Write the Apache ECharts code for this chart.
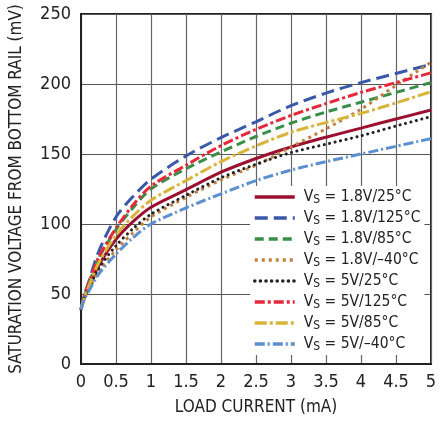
<!DOCTYPE html>
<html>
<head>
<meta charset="utf-8">
<script src="https://cdn.jsdelivr.net/npm/echarts@6/dist/echarts.min.js"></script>
<style>
html,body{margin:0;padding:0;background:#fff;}
#chart{width:443px;height:421px;}
</style>
</head>
<body>
<div id="chart"></div>
<script>
// Load current (mA)
const xs = [0, 0.05, 0.1, 0.25, 0.5, 0.75, 1, 1.5, 2, 2.5, 3, 3.5, 4, 4.5, 5];
// Saturation voltage (mV)
const vs18_25  = [39, 48, 53.5, 70, 89, 102, 112, 124.5, 137, 146.8, 155, 162, 168.5, 175, 181.4];
const vs18_125 = [39, 50, 57, 80, 105, 120, 132, 148.6, 161.7, 173, 184.5, 193.5, 201, 207.5, 214];
const vs18_85  = [39, 49, 55.5, 75, 96, 112, 125, 139.5, 151.5, 162.5, 172, 180, 187, 194, 201];
const vs18_m40 = [39, 47, 52, 66, 81.5, 94, 105, 119, 131.5, 142, 155, 168, 182, 199, 215.5];
const vs5_25   = [39, 47.5, 52.5, 68, 84.5, 97, 107, 120.5, 133, 142.7, 151, 157, 163, 170, 176.7];
const vs5_125  = [39, 49, 56, 76, 97, 114, 127, 142, 156, 167.6, 177.5, 186, 194, 201, 208];
const vs5_85   = [39, 48, 54, 72, 92, 106, 117, 131, 144.5, 155.8, 165.5, 172.5, 179, 186.5, 194.5];
const vs5_m40  = [39, 46.5, 51, 64, 78.5, 90.5, 100, 111.5, 121.5, 131, 138.5, 144.5, 150, 155.5, 161];

const names = ['1.8V/25°C','1.8V/125°C','1.8V/85°C','1.8V/–40°C','5V/25°C','5V/125°C','5V/85°C','5V/–40°C'];
const values = [vs18_25, vs18_125, vs18_85, vs18_m40, vs5_25, vs5_125, vs5_85, vs5_m40];
const xTicks = ['0','0.5','1','1.5','2','2.5','3','3.5','4','4.5','5'];
const yTicks = ['0','50','100','150','200','250'];

const styles = [
  {color:'#9b1030', type:'solid', width:3},
  {color:'#3a58a8', type:[13,6], width:3},
  {color:'#3a8f47', type:[9,5], width:3},
  {color:'#c37f3c', type:[3,4], width:3},
  {color:'#222222', type:[0.1,5.5], width:3, cap:'round'},
  {color:'#e5283a', type:[10,3,3,3], width:3},
  {color:'#d8b43a', type:[12,3,3,3], width:3},
  {color:'#5b8fd0', type:[10,3,2,3], width:3}
];

const FONT = '"Liberation Sans Narrow","DejaVu Sans Condensed","Roboto Condensed",sans-serif';

const series = names.map((n,i)=>({
  name:n,
  type:'line',
  smooth:0.3,
  showSymbol:false,
  symbol:'none',
  data: xs.map((x,j)=>[x, values[i][j]]),
  lineStyle:{color:styles[i].color, type:styles[i].type, width:styles[i].width, cap:styles[i].cap||'butt'},
  itemStyle:{color:styles[i].color},
  z: 3
}));

const chart = echarts.init(document.getElementById('chart'), null, {renderer:'canvas'});
chart.setOption({
  animation:false,
  backgroundColor:'#fff',
  grid:{left:79, right:12, top:14, bottom:55, show:true, borderColor:'#222', borderWidth:2, backgroundColor:'transparent'},
  xAxis:{
    type:'value', min:0, max:5, interval:0.5,
    name:'LOAD CURRENT (mA)', nameLocation:'middle', nameGap:35,
    nameTextStyle:{fontFamily:FONT, fontSize:17, color:'#222'},
    axisLine:{show:true, lineStyle:{color:'#222', width:2}},
    axisTick:{show:false},
    axisLabel:{fontFamily:FONT, fontSize:18, color:'#222', margin:9,
      formatter:(v)=>{const i=Math.round(v/0.5); return xTicks[i]!==undefined?xTicks[i]:'';}},
    splitLine:{show:true, lineStyle:{color:'#666', width:1.2}}
  },
  yAxis:{
    type:'value', min:0, max:250, interval:50,
    name:'SATURATION VOLTAGE FROM BOTTOM RAIL (mV)', nameLocation:'middle', nameGap:56, nameRotate:90,
    nameTextStyle:{fontFamily:FONT, fontSize:17, color:'#222'},
    axisLine:{show:true, lineStyle:{color:'#222', width:2}},
    axisTick:{show:false},
    axisLabel:{fontFamily:FONT, fontSize:18, color:'#222', margin:10,
      formatter:(v)=>{const i=Math.round(v/50); return yTicks[i]!==undefined?yTicks[i]:'';}},
    splitLine:{show:true, lineStyle:{color:'#555', width:1.2}}
  },
  legend:{
    orient:'vertical', left:250, top:186,
    backgroundColor:'#fff', padding:[2,4,2,3],
    itemWidth:40, itemHeight:14, itemGap:3,
    itemStyle:{opacity:0},
    lineStyle:{width:3.5},
    data:names,
    formatter:(n)=>'{f|V}{s|S}{v| = '+n+'}',
    textStyle:{fontFamily:FONT, fontSize:15.5, color:'#222', lineHeight:16,
      rich:{f:{fontFamily:FONT, fontSize:15.5, lineHeight:16, color:'#222', padding:[0,0,0,4]},
            v:{fontFamily:FONT, fontSize:15.5, lineHeight:16, color:'#222'},
            s:{fontFamily:FONT, fontSize:12, lineHeight:12, color:'#222', padding:[6,0,0,0]}}}
  },
  series:series
});
</script>
</body>
</html>
